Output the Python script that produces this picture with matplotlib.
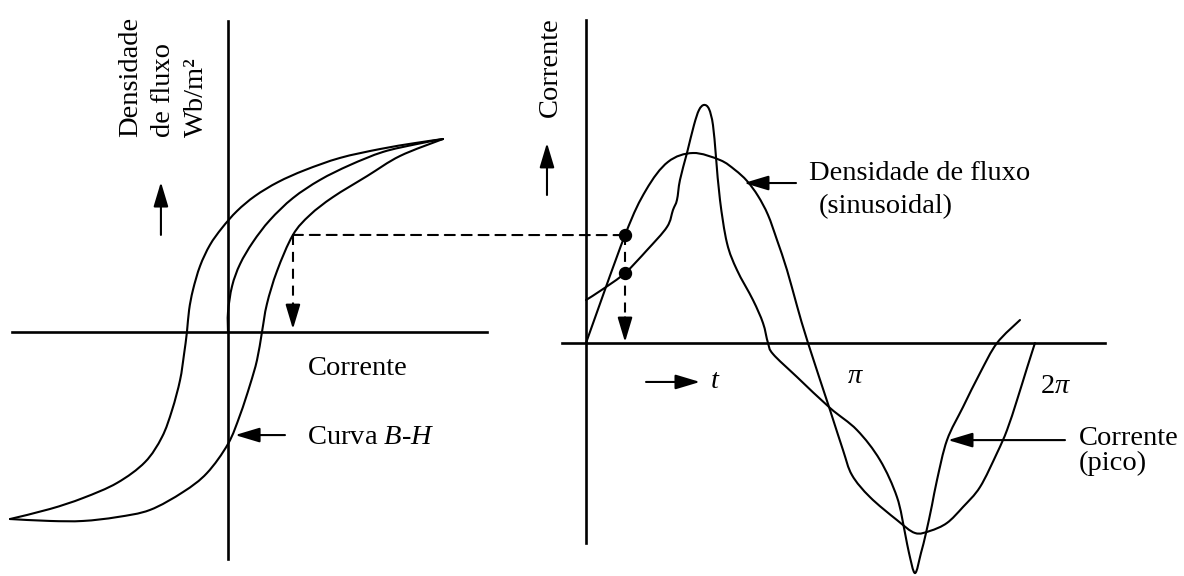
import numpy as np
import matplotlib.pyplot as plt
from matplotlib.path import Path
from matplotlib.patches import ConnectionPatch, PathPatch

plt.rcParams['font.family'] = 'Liberation Serif'
plt.rcParams['mathtext.fontset'] = 'custom'
plt.rcParams['mathtext.rm'] = 'Liberation Serif'
plt.rcParams['mathtext.it'] = 'Liberation Serif:italic'

# Curva B-H: corrente (H) e densidade de fluxo (B), normalizadas pelo pico
h_desc = [1.0, 0.870, 0.707, 0.521, 0.358, 0.233, 0.126, 0.042, -0.028, -0.084, -0.130,
          -0.163, -0.181, -0.191, -0.205, -0.223, -0.260, -0.307, -0.386, -0.516, -0.674,
          -0.828, -1.014]
b_desc = [1.0, 0.979, 0.948, 0.902, 0.839, 0.777, 0.705, 0.627, 0.539, 0.451, 0.342,
          0.218, 0.114, 0.0, -0.119, -0.249, -0.404, -0.544, -0.674, -0.782, -0.860,
          -0.917, -0.969]
h_asc = [-1.014, -0.828, -0.674, -0.516, -0.363, -0.209, -0.098, 0.0, 0.056, 0.102,
         0.135, 0.158, 0.181, 0.228, 0.302, 0.381, 0.488, 0.647, 0.800, 1.0]
b_asc = [-0.969, -0.979, -0.979, -0.959, -0.922, -0.829, -0.731, -0.580, -0.430, -0.275,
         -0.145, 0.0, 0.145, 0.316, 0.503, 0.606, 0.699, 0.808, 0.912, 1.0]
h_init = [0.0, 0.0, 0.019, 0.056, 0.116, 0.195, 0.302, 0.428, 0.567, 0.721, 0.879, 1.0]
b_init = [0.0, 0.104, 0.238, 0.352, 0.466, 0.580, 0.694, 0.788, 0.865, 0.933, 0.974, 1.0]

# Formas de onda ao longo de um ciclo (t em radianos)
t_fluxo = [0.0, 0.546, 0.840, 1.147, 1.497, 1.875, 2.085, 2.253, 2.407,
           2.547, 2.673, 2.813, 2.953, 3.107, 3.415, 3.596, 3.722, 3.974, 4.352, 4.604,
           4.814, 5.052, 5.276, 5.514, 5.752, 5.892, 6.032, 6.171, 6.283]
fluxo = [0.0, 0.568, 0.805, 0.953, 1.0, 0.963, 0.911, 0.853, 0.774,
         0.674, 0.542, 0.384, 0.195, 0.0, -0.353, -0.563, -0.695, -0.811, -0.932, -1.0,
         -0.989, -0.947, -0.863, -0.758, -0.579, -0.458, -0.300, -0.132, 0.0]
t_corr = [0.0, 0.238, 0.546, 0.854, 1.134, 1.217, 1.273, 1.315, 1.413, 1.511, 1.581,
          1.651, 1.721, 1.777, 1.819, 1.875, 1.973, 2.113, 2.337, 2.477, 2.547, 2.617,
          2.953, 3.415, 3.792, 4.114, 4.352, 4.464, 4.520, 4.604, 4.688, 4.758, 4.842,
          4.912, 5.052, 5.276, 5.514, 5.752, 6.073]
corrente = [0.226, 0.284, 0.368, 0.489, 0.611, 0.700, 0.753, 0.858, 1.0, 1.147, 1.226,
            1.253, 1.232, 1.147, 0.979, 0.753, 0.526, 0.384, 0.226, 0.105, 0.0, -0.058,
            -0.179, -0.342, -0.458, -0.616, -0.811, -1.0, -1.105, -1.211, -1.105, -1.0,
            -0.853, -0.721, -0.511, -0.337, -0.158, 0.0, 0.121]

# ponto usado na construcao grafica
h_ponto, b_ponto = 0.302, 0.503
t_ponto, fluxo_ponto, corr_ponto = 0.546, 0.568, 0.368

FS = 20.5
LW = 1.5
SETA = '-|>,head_length=1.5,head_width=0.45'
TRACO = (0, (4.8, 3.3))


def curva(ax, xs, ys):
    # tracado suave passando pelos pontos (segmentos de Bezier tipo Catmull-Rom)
    p = np.column_stack([xs, ys]).astype(float)
    n = len(p)
    verts, codes = [p[0]], [Path.MOVETO]
    for i in range(n - 1):
        p0 = p[i - 1] if i > 0 else p[i]
        p3 = p[i + 2] if i + 2 < n else p[i + 1]
        c1 = p[i] + (p[i + 1] - p0) / 6
        c2 = p[i + 1] - (p3 - p[i]) / 6
        verts += [c1, c2, p[i + 1]]
        codes += [Path.CURVE4] * 3
    ax.add_patch(PathPatch(Path(verts, codes), fill=False, ec='black', lw=LW,
                           capstyle='round', joinstyle='round'))


def seta(ax, tip, tail):
    ax.annotate('', xy=tip, xytext=tail,
                arrowprops=dict(arrowstyle=SETA, color='black', lw=LW,
                                shrinkA=0, shrinkB=0, mutation_scale=10))


def seta_tracejada(ax, x, y0, y1, cabeca):
    # haste tracejada e ponta cheia
    ax.plot([x, x], [y0, y1 + cabeca], color='black', lw=LW, ls=TRACO)
    seta(ax, (x, y1), (x, y1 + cabeca))


fig = plt.figure(figsize=(11.84, 5.76), dpi=100)
ax1 = fig.add_axes([0, 0, 500 / 1184, 1])
ax2 = fig.add_axes([520 / 1184, 0, 664 / 1184, 1])
for ax in (ax1, ax2):
    ax.set_axis_off()

# --- curva B-H ---
ax1.set_xlim(-1.0605, 1.2651)
ax1.set_ylim(-1.2642, 1.7202)
ax1.plot([-1.005, 1.205], [0, 0], color='black', lw=1.9)
ax1.plot([0, 0], [-1.176, 1.611], color='black', lw=1.9)
curva(ax1, h_desc, b_desc)
curva(ax1, h_asc, b_asc)
curva(ax1, h_init, b_init)

for x, linha in zip([-0.423, -0.270, -0.116], ['Densidade', 'de fluxo', 'Wb/m²']):
    ax1.text(x, 1.010, linha, rotation=90, rotation_mode='anchor',
             ha='left', va='baseline', fontsize=FS)
seta(ax1, (-0.312, 0.777), (-0.312, 0.503))
ax1.text(0.372, -0.223, 'Corrente', fontsize=FS, va='baseline')
ax1.text(0.367, -0.580, 'Curva $B$-$H$', fontsize=FS, va='baseline')
seta(ax1, (0.033, -0.534), (0.265, -0.534))
seta_tracejada(ax1, h_ponto, b_ponto, 0.015, 0.13)

# --- formas de onda ---
ax2.set_xlim(-0.9236, 8.3684)
ax2.set_ylim(-1.2263, 1.8053)
ax2.plot([-0.336, 7.263], [0, 0], color='black', lw=1.9)
ax2.plot([0, 0], [-1.053, 1.70], color='black', lw=1.9)
curva(ax2, t_fluxo, fluxo)
curva(ax2, t_corr, corrente)
ax2.plot([t_ponto, t_ponto], [fluxo_ponto, corr_ponto], 'o', color='black', ms=8.6)
seta_tracejada(ax2, t_ponto, fluxo_ponto, 0.005, 0.13)

ax2.text(-0.406, 1.189, 'Corrente', rotation=90, rotation_mode='anchor',
         ha='left', va='baseline', fontsize=FS)
seta(ax2, (-0.546, 1.053), (-0.546, 0.779))
seta(ax2, (1.595, -0.205), (0.840, -0.205))
ax2.text(1.735, -0.237, '$t$', fontsize=FS, va='baseline')
ax2.text(3.652, -0.211, r'$\pi$', fontsize=FS, va='baseline')
ax2.text(6.353, -0.263, r'$2\pi$', fontsize=FS, va='baseline')
ax2.text(3.121, 0.858, 'Densidade de fluxo', fontsize=FS, va='baseline')
ax2.text(3.261, 0.684, '(sinusoidal)', fontsize=FS, va='baseline')
seta(ax2, (2.211, 0.842), (2.939, 0.842))
ax2.text(6.899, -0.537, 'Corrente', fontsize=FS, va='baseline')
ax2.text(6.899, -0.668, '(pico)', fontsize=FS, va='baseline')
seta(ax2, (5.066, -0.511), (6.703, -0.511))

# linha tracejada ligando as duas construcoes
ligacao = ConnectionPatch(xyA=(h_ponto, b_ponto), coordsA=ax1.transData,
                          xyB=(t_ponto, fluxo_ponto), coordsB=ax2.transData,
                          color='black', lw=LW, ls=TRACO)
fig.add_artist(ligacao)

fig.savefig('out.png', dpi=100, facecolor='white')
